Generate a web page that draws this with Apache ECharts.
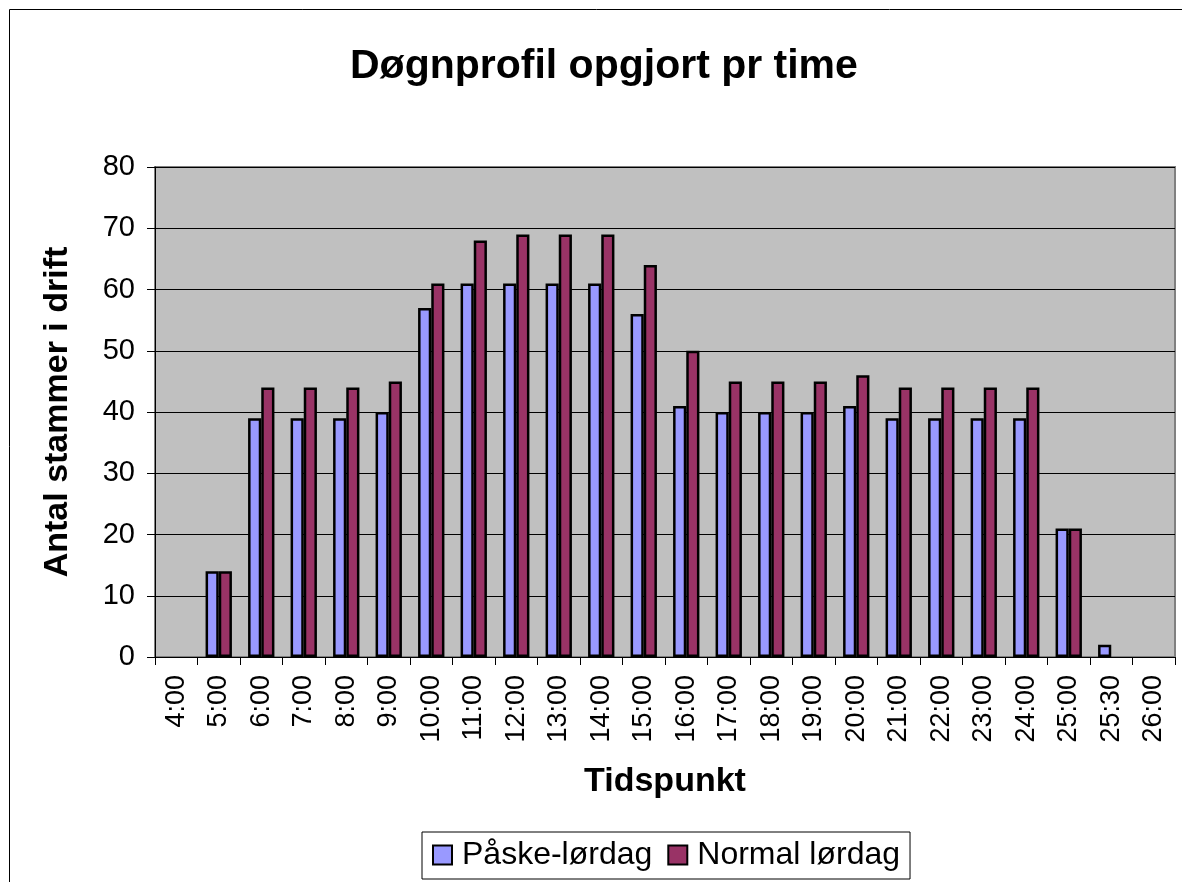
<!DOCTYPE html>
<html>
<head>
<meta charset="utf-8">
<script src="https://cdn.jsdelivr.net/npm/echarts@6/dist/echarts.min.js"></script>
<style>
    html, body { margin: 0; padding: 0; background: #fff; }
    #myChart { width: 1182px; height: 882px; }
</style>
</head>
<body>
<div id="myChart"></div>
<script>
    // kategorier (tidspunkt)
    let categories = ['4:00', '5:00', '6:00', '7:00', '8:00', '9:00', '10:00', '11:00', '12:00', '13:00', '14:00', '15:00',
        '16:00', '17:00', '18:00', '19:00', '20:00', '21:00', '22:00', '23:00', '24:00', '25:00', '25:30', '26:00'];
    // '-' = ingen søjle
    let paaskeLoerdag = ['-', 14, 39, 39, 39, 40, 57, 61, 61, 61, 61, 56, 41, 40, 40, 40, 41, 39, 39, 39, 39, 21, 2, '-'];
    let normalLoerdag = ['-', 14, 44, 44, 44, 45, 61, 68, 69, 69, 69, 64, 50, 45, 45, 45, 46, 44, 44, 44, 44, 21, '-', '-'];
    let seriesNames = ['Påske-lørdag', 'Normal lørdag'];

    let myChart = echarts.init(document.getElementById('myChart'));
    let font = 'Arial, "Liberation Sans", sans-serif';

    myChart.setOption({
        animation: false,
        textStyle: { fontFamily: font },
        title: {
            text: 'Døgnprofil opgjort pr time',
            left: 345,
            top: 41,
            textStyle: { fontSize: 41, fontWeight: 'bold', color: '#000', fontFamily: font }
        },
        graphic: [{
            type: 'rect',
            shape: { x: 9.5, y: 9.5, width: 1200, height: 900 },
            style: { fill: 'none', stroke: '#000', lineWidth: 1 },
            silent: true
        }],
        legend: {
            left: 422,
            top: 832,
            data: [
                { name: seriesNames[0], itemStyle: { color: '#9999FF', borderColor: '#000', borderWidth: 2 } },
                { name: seriesNames[1], itemStyle: { color: '#993366', borderColor: '#000', borderWidth: 2 } }
            ],
            icon: 'rect',
            itemWidth: 19,
            itemHeight: 19,
            itemGap: 15,
            padding: [7, 10, 8, 10],
            borderColor: '#000',
            borderWidth: 1,
            textStyle: { fontSize: 32, color: '#000', fontFamily: font, padding: [0, 0, 0, 5] }
        },
        grid: {
            left: 155,
            right: 7,
            top: 167,
            bottom: 225,
            show: true,
            backgroundColor: '#C0C0C0',
            borderColor: '#808080',
            borderWidth: 2
        },
        xAxis: {
            type: 'category',
            data: categories,
            name: 'Tidspunkt',
            nameLocation: 'middle',
            nameGap: 108,
            nameTextStyle: { fontSize: 34, fontWeight: 'bold', color: '#000', fontFamily: font },
            axisLine: { lineStyle: { color: '#000', width: 1 } },
            axisTick: { show: true, length: 8, lineStyle: { color: '#000' } },
            axisLabel: { rotate: 90, fontSize: 27, color: '#000', margin: 18, interval: 0, fontFamily: font },
            splitLine: { show: false }
        },
        yAxis: {
            type: 'value',
            min: 0,
            max: 80,
            interval: 10,
            name: 'Antal stammer i drift',
            nameLocation: 'middle',
            nameRotate: 90,
            nameGap: 80,
            nameTextStyle: { fontSize: 34, fontWeight: 'bold', color: '#000', fontFamily: font },
            axisLine: { show: true, lineStyle: { color: '#000', width: 1 } },
            axisTick: { show: true, length: 8, lineStyle: { color: '#000' } },
            axisLabel: { fontSize: 29, color: '#000', margin: 20, fontFamily: font },
            splitLine: { show: true, lineStyle: { color: '#000', width: 1 } }
        },
        series: [
            {
                name: seriesNames[0],
                type: 'bar',
                data: paaskeLoerdag,
                barGap: '0%',
                barCategoryGap: '38%',
                itemStyle: { color: '#9999FF', borderColor: '#000', borderWidth: 2.5 }
            },
            {
                name: seriesNames[1],
                type: 'bar',
                data: normalLoerdag,
                itemStyle: { color: '#993366', borderColor: '#000', borderWidth: 2.5 }
            }
        ]
    });

    window.addEventListener('resize', function () {
        myChart.resize()
    })
</script>
</body>
</html>
